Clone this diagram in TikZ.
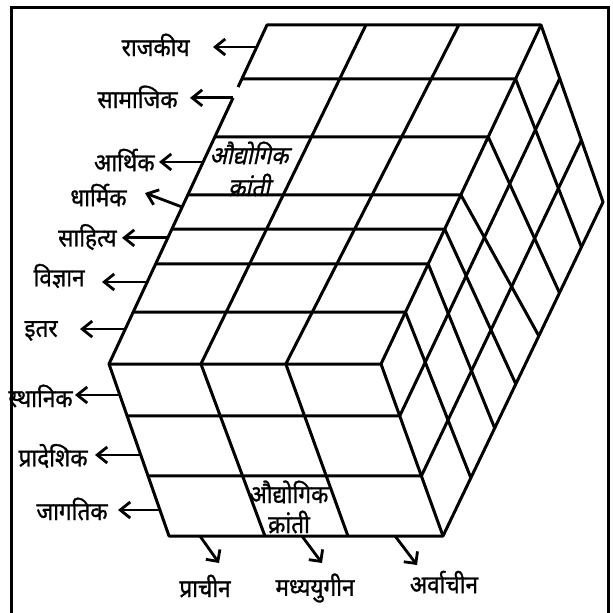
\documentclass[tikz,border=0pt]{standalone}
\usepackage{fontspec}
\usetikzlibrary{arrows.meta,calc,positioning}
\newfontfamily\deva[Script=Devanagari,FakeStretch=0.9,FakeBold=1]{Noto Sans}
\newfontfamily\devaslant[Script=Devanagari,FakeStretch=0.9,FakeBold=1,FakeSlant=0.22]{Noto Sans}
\tikzset{
  cubeline/.style={line width=1.5pt, line join=round},
  lbl/.style={font=\deva\fontsize{12.5}{14}\selectfont, inner sep=1pt},
  note/.style={font=\deva\fontsize{12.5}{15}\selectfont, align=center, inner sep=0pt},
  lblarrow/.style={-{Straight Barb[length=5pt, width=8pt]}, line width=1.4pt},
  downarrow/.style={-{Straight Barb[length=4.3pt, width=8.6pt]}, line width=1.4pt},
}
\begin{document}
\begin{tikzpicture}[x=0.5pt, y=-0.5pt]
  \useasboundingbox (0,0) rectangle (612,613);
  \draw[line width=1.5pt] (11.5,613) -- (11.5,7.5) -- (608.5,7.5) -- (608.5,613);
  \coordinate (A) at (267,25);
  \coordinate (B) at (541,25);
  \coordinate (C) at (381,364);
  \coordinate (D) at (109,364);
  \coordinate (E) at (169,536);
  \coordinate (F) at (443,536);
  \coordinate (G) at (603,202);
  \draw[cubeline] ($(A)!0.183!(D)$) -- (A) -- (B) -- (G) -- (F) -- (E) -- (D) -- ($(A)!0.215!(D)$);
  \draw[cubeline] (D) -- (C) -- (B);
  \draw[cubeline] (C) -- (F);
  \foreach \t/\v in {0.159/0.135, 0.330/0.272, 0.501/0.401, 0.602/0.545, 0.705/0.677, 0.847/0.826}
    \draw[cubeline] ($(A)!\t!(D)$) -- ($(B)!\t!(C)$) -- ($(G)!\v!(F)$);
  \foreach \a/\b/\c in {0.361/0.338/0.35, 0.70/0.65/0.653}
    \draw[cubeline] ($(A)!\a!(B)$) -- ($(D)!\b!(C)$) -- ($(E)!\c!(F)$);
  \foreach \u in {0.302, 0.651}
    \draw[cubeline] ($(D)!\u!(E)$) -- ($(C)!\u!(F)$) -- ($(B)!\u!(G)$);

  \node[note, font=\devaslant\fontsize{12.5}{16}\selectfont] (audyogTop) at (249,169) {औद्योगिक\\क्रांती};
  \node[note] (audyogFront) at (289,507) {औद्योगिक\\क्रांती};

  \node[lbl, anchor=east] (rajkiya) at (192,45) {राजकीय};
  \node[lbl, anchor=east] (samajik) at (180,97) {सामाजिक};
  \node[lbl, anchor=east] (arthik) at (157,160) {आर्थिक};
  \node[lbl, anchor=east] (dharmik) at (129,195) {धार्मिक};
  \node[lbl, anchor=east] (sahitya) at (119,237) {साहित्य};
  \node[lbl, anchor=east] (vidnyan) at (87,276) {विज्ञान};
  \node[lbl, anchor=east] (itar) at (60,331) {इतर};
  \node[lbl, anchor=east] (sthanik) at (75,396) {स्थानिक};
  \node[lbl, anchor=east] (pradeshik) at (90,456) {प्रादेशिक};
  \node[lbl, anchor=east] (jagatik) at (110,509) {जागतिक};
  \node[lbl] (pracheen) at (205,586) {प्राचीन};
  \node[lbl] (madhyayugin) at (315,588) {मध्ययुगीन};
  \node[lbl] (arvachin) at (444,582) {अर्वाचीन};

  \coordinate (rajkiyaE) at ($(A)!0.065!(D)$);
  \coordinate (samajikE) at ($(A)!0.215!(D)$);
  \coordinate (arthikE) at ($(A)!0.404!(D)$);
  \coordinate (dharmikE) at ($(A)!0.537!(D)$);
  \coordinate (dharmikT) at (145,193);
  \coordinate (sahityaE) at ($(A)!0.628!(D)$);
  \coordinate (vidnyanE) at ($(A)!0.758!(D)$);
  \coordinate (itarE) at ($(A)!0.897!(D)$);
  \coordinate (sthanikE) at ($(D)!0.18!(E)$);
  \coordinate (pradeshikE) at ($(D)!0.529!(E)$);
  \coordinate (jagatikE) at ($(D)!0.849!(E)$);
  \coordinate (pracheenE) at ($(E)!0.113!(F)$);
  \coordinate (pracheenT) at (219,563);
  \coordinate (madhyayuginE) at ($(E)!0.485!(F)$);
  \coordinate (madhyayuginT) at (322,563);
  \coordinate (arvachinE) at ($(E)!0.825!(F)$);
  \coordinate (arvachinT) at (417,565);

  \draw[lblarrow, shorten >=10.5pt] (rajkiyaE) -- (rajkiyaE -| rajkiya.east);
  \draw[lblarrow, shorten >=5pt] (samajikE) -- (samajikE -| samajik.east);
  \draw[lblarrow, shorten >=1pt] (arthikE) -- (arthikE -| arthik.east);
  \draw[lblarrow] (dharmikE) -- (dharmikT);
  \draw[lblarrow, shorten >=1.5pt] (sahityaE) -- (sahityaE -| sahitya.east);
  \draw[lblarrow, shorten >=7.5pt] (vidnyanE) -- (vidnyanE -| vidnyan.east);
  \draw[lblarrow, shorten >=10pt] (itarE) -- (itarE -| itar.east);
  \draw[lblarrow] (sthanikE) -- (sthanikE -| sthanik.east);
  \draw[lblarrow, shorten >=2.5pt] (pradeshikE) -- (pradeshikE -| pradeshik.east);
  \draw[lblarrow, shorten >=4pt] (jagatikE) -- (jagatikE -| jagatik.east);
  \draw[downarrow] (pracheenE) -- (pracheenT);
  \draw[downarrow] (madhyayuginE) -- (madhyayuginT);
  \draw[downarrow] (arvachinE) -- (arvachinT);
\end{tikzpicture}
\end{document}
